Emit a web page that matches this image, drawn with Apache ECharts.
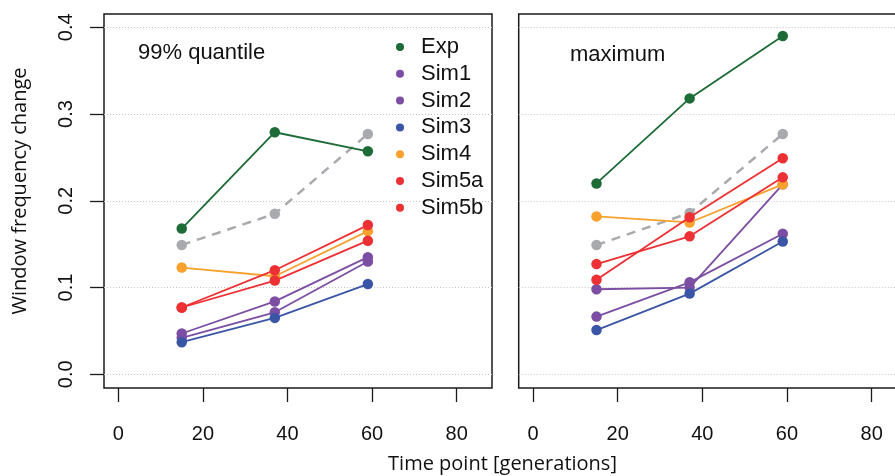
<!DOCTYPE html>
<html><head><meta charset="utf-8">
<script src="https://cdn.jsdelivr.net/npm/echarts@6/dist/echarts.min.js"></script>
<style>html,body{margin:0;padding:0;background:#fff}#c{width:895px;height:476px}</style>
</head><body><div id="c"></div>
<script>
// ---- data ----
const timePoints = [15, 37, 59];
const seriesNames = ['Exp', 'Sim1', 'Sim2', 'Sim3', 'Sim4', 'Sim5a', 'Sim5b'];
const xTicks = [0, 20, 40, 60, 80];
const yTicks = [0, 0.1, 0.2, 0.3, 0.4];
const panelTitles = ['99% quantile', 'maximum'];
const xAxisTitle = 'Time point [generations]';
const yAxisTitle = 'Window frequency change';
// 99% quantile panel
const q99_ref   = [0.149, 0.185, 0.277];
const q99_Exp   = [0.168, 0.279, 0.257];
const q99_Sim1  = [0.047, 0.084, 0.135];
const q99_Sim2  = [0.042, 0.0715, 0.130];
const q99_Sim3  = [0.037, 0.065, 0.104];
const q99_Sim4  = [0.123, 0.113, 0.165];
const q99_Sim5a = [0.077, 0.120, 0.172];
const q99_Sim5b = [0.077, 0.108, 0.154];
// maximum panel
const max_ref   = [0.149, 0.186, 0.277];
const max_Exp   = [0.220, 0.318, 0.390];
const max_Sim1  = [0.098, 0.100, 0.219];
const max_Sim2  = [0.0665, 0.106, 0.162];
const max_Sim3  = [0.051, 0.093, 0.153];
const max_Sim4  = [0.182, 0.175, 0.219];
const max_Sim5a = [0.127, 0.159, 0.227];
const max_Sim5b = [0.109, 0.181, 0.249];

// ---- styles ----
const colors = {
  Exp: '#1d6b36', Sim1: '#7b4ea3', Sim2: '#7b4ea3', Sim3: '#3a55a6',
  Sim4: '#f8a12d', Sim5a: '#ec3033', Sim5b: '#ec3033', ref: '#a8aaad'
};
const panels = [
  { ref: q99_ref, Exp: q99_Exp, Sim1: q99_Sim1, Sim2: q99_Sim2, Sim3: q99_Sim3, Sim4: q99_Sim4, Sim5a: q99_Sim5a, Sim5b: q99_Sim5b },
  { ref: max_ref, Exp: max_Exp, Sim1: max_Sim1, Sim2: max_Sim2, Sim3: max_Sim3, Sim4: max_Sim4, Sim5a: max_Sim5a, Sim5b: max_Sim5b }
];
const INK = '#1a1a1a';
const SANS = 'Liberation Sans, Arial, Helvetica, sans-serif';
const OPEN = 'Open Sans, Noto Sans, sans-serif';

const series = [];
panels.forEach((p, pi) => {
  series.push({
    type: 'line', name: 'Reference', xAxisIndex: pi, yAxisIndex: pi,
    data: timePoints.map((t, i) => [t, p.ref[i]]),
    symbol: 'circle', symbolSize: 10.5, silent: true,
    lineStyle: { color: colors.ref, width: 2.5, type: [9, 7] },
    itemStyle: { color: colors.ref }, z: 2
  });
  seriesNames.forEach((n, k) => {
    series.push({
      type: 'line', name: n, xAxisIndex: pi, yAxisIndex: pi,
      data: timePoints.map((t, i) => [t, p[n][i]]),
      symbol: 'circle', symbolSize: 10.5, silent: true,
      lineStyle: { color: colors[n], width: 1.8 },
      itemStyle: { color: colors[n] }, z: 3 + k
    });
  });
});

const gridBox = { top: 14, height: 374, show: true, borderColor: INK, borderWidth: 1.5,
                  backgroundColor: 'transparent', outerBoundsMode: 'none', containLabel: false };

function xAxis(gi) {
  return {
    type: 'value', gridIndex: gi, min: -3.38, max: 88.35,
    axisLine: { show: false, onZero: false },
    axisTick: { show: true, length: 14, customValues: xTicks, lineStyle: { color: INK, width: 1.3 } },
    axisLabel: { customValues: xTicks, margin: 36, fontSize: 20, fontFamily: SANS, color: '#111' },
    splitLine: { show: false }
  };
}
function yAxis(gi) {
  return {
    type: 'value', gridIndex: gi, min: -0.0158, max: 0.4153, splitNumber: 5,
    axisLine: { show: false, onZero: false },
    axisTick: { show: gi === 0, length: 14, customValues: yTicks, lineStyle: { color: INK, width: 1.3 } },
    axisLabel: { show: gi === 0, customValues: yTicks, rotate: 90, margin: 28, fontSize: 20, fontFamily: SANS, color: '#111',
                 formatter: v => v.toFixed(1) },
    splitLine: { show: true, lineStyle: { type: [1, 2], color: '#c4c4c4', width: 1 } }
  };
}

const option = {
  animation: false,
  backgroundColor: '#fff',
  grid: [
    Object.assign({ left: 104, width: 388 }, gridBox),
    Object.assign({ left: 518.7, width: 388.3 }, gridBox)
  ],
  xAxis: [xAxis(0), xAxis(1)],
  yAxis: [yAxis(0), yAxis(1)],
  legend: {
    data: seriesNames, orient: 'vertical', left: 391, top: 31,
    icon: 'circle', itemWidth: 32, itemHeight: 8, itemGap: 4.8,
    selectedMode: false,
    textStyle: { fontSize: 22, lineHeight: 22, fontFamily: SANS, color: '#111' }
  },
  graphic: [
    { type: 'text', x: 138, y: 52.5, style: { text: panelTitles[0], font: '22px ' + SANS, fill: '#111', verticalAlign: 'middle' } },
    { type: 'text', x: 570, y: 54.5, style: { text: panelTitles[1], font: '22px ' + SANS, fill: '#111', verticalAlign: 'middle' } },
    { type: 'text', x: 502.5, y: 464, style: { text: xAxisTitle, font: '20px ' + OPEN, fill: '#111', align: 'center', verticalAlign: 'middle' } },
    { type: 'text', x: 20.4, y: 191, rotation: Math.PI / 2, style: { text: yAxisTitle, font: '20px ' + OPEN, fill: '#111', align: 'center', verticalAlign: 'middle' } }
  ],
  series: series
};
echarts.init(document.getElementById('c'), null, { renderer: 'canvas' }).setOption(option);
</script>
</body></html>
